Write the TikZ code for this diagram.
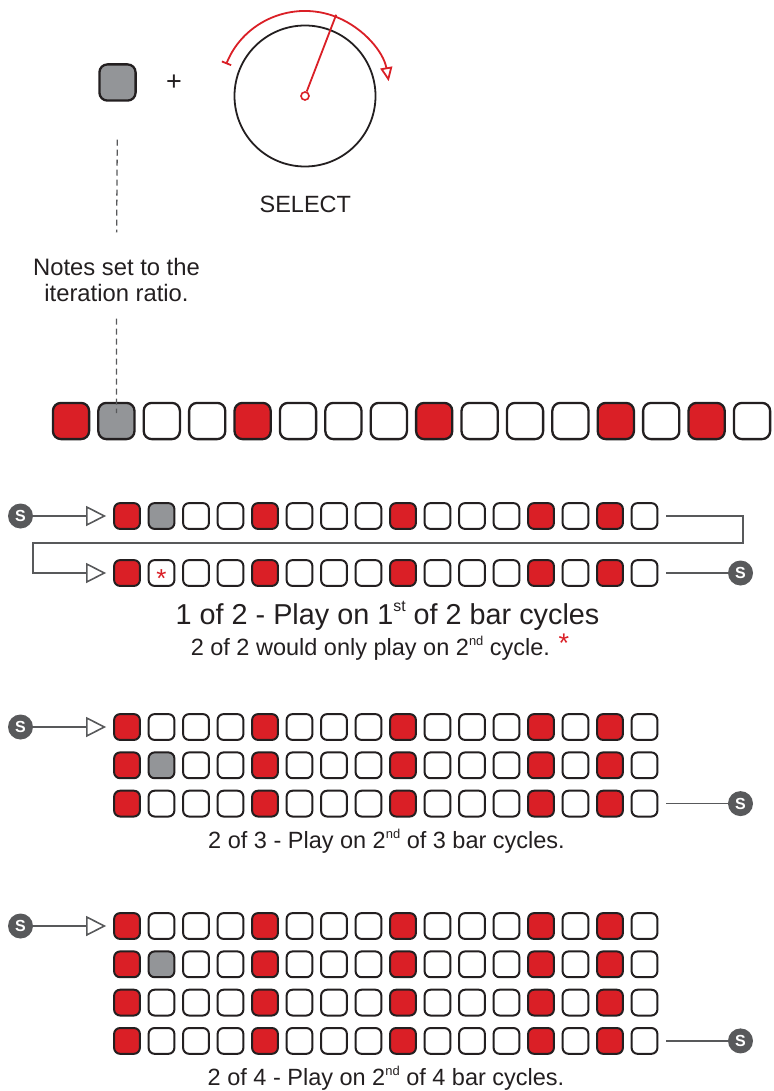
\documentclass[tikz,border=0pt]{standalone}
\usepackage{fontspec}
\setmainfont{Liberation Sans}
\usetikzlibrary{arrows.meta}

\definecolor{padred}{RGB}{218,31,38}
\definecolor{padgray}{RGB}{147,149,152}
\definecolor{edge}{RGB}{35,31,32}
\definecolor{linkgray}{RGB}{88,89,91}

% one bar of 16 steps: name, x of 1st centre, y, pitch, size style, fill of step 2
\newcommand{\padrow}[6]{%
  \foreach \i/\col in {1/padred,2/#6,3/white,4/white,5/padred,6/white,7/white,8/white,
                       9/padred,10/white,11/white,12/white,13/padred,14/white,15/padred,16/white}
    \node[#5, fill=\col] (#1-\i) at ({#2+(\i-1)*#4},#3) {};
}
% small raised ordinal
\newcommand{\ordinal}[1]{\raisebox{0.42em}{\scalebox{0.55}{#1}}}

\begin{document}
\begin{tikzpicture}[x=1pt, y=-1pt,
    bigpad/.style={draw=edge, line width=2.3pt, rounded corners=8pt, minimum size=36.2pt, inner sep=0pt},
    smallpad/.style={draw=edge, line width=2pt, rounded corners=6pt, minimum size=25.8pt, inner sep=0pt},
    start/.style={circle, fill=linkgray, text=white, font=\bfseries\fontsize{16}{16}\selectfont,
                  minimum size=25pt, inner sep=0pt},
    link/.style={draw=linkgray, line width=1.6pt},
    feed/.style={link, -{Triangle[open, length=20pt, width=20pt]}, shorten >=7pt},
    leader/.style={draw=linkgray, line width=1.3pt, dash pattern=on 6pt off 4pt},
    dial/.style={draw=padred, line width=1.8pt},
    caption/.style={text=edge, font=\fontsize{23.5}{26.7}\selectfont}]
  \useasboundingbox (0,0) rectangle (773,1091);

  % Shift button + encoder
  \node[bigpad, fill=padgray] (btn) at (117.5,82.5) {};
  \node[text=edge, font=\fontsize{27}{27}\selectfont] (plus) at (174,83) {+};
  \node[circle, draw=edge, line width=1.8pt, minimum size=141pt] (knob) at (305,96) {};
  \node[circle, draw=padred, fill=white, line width=1.6pt, minimum size=8pt, inner sep=0pt] (hub) at (305,96) {};
  \draw[dial] (hub) -- +(-69:87);
  \draw[dial, {Bar[width=10pt]}-{Triangle[open, length=14pt, width=12pt]}]
    (hub.center) ++(-158:85) arc[start angle=-158, end angle=-10, radius=85];
  \node[caption, anchor=base] (select) at (305.3,213) {SELECT};

  % Note about the ratio
  \node[caption, font=\fontsize{23.8}{26.7}\selectfont, align=center] (notes) at (116.5,280)
    {Notes set to the\\iteration ratio.};

  % The pattern
  \padrow{b}{71}{421}{45.4}{bigpad}{padgray}
  \draw[leader, shorten <=38pt, shorten >=22pt] (btn.south) -- (notes.north);
  \draw[leader, shorten <=13pt, shorten >=8pt] (notes.south) -- (b-2.center);

  % 1 of 2
  \node[start] (s1) at (20.5,516) {S};
  \padrow{p}{127}{516}{34.5}{smallpad}{padgray}
  \padrow{q}{127}{573}{34.5}{smallpad}{white}
  \node[text=padred, font=\fontsize{26}{26}\selectfont] (tied) at ([yshift=-6pt]q-2.center) {*};
  \node[start] (e1) at (740.5,573) {S};
  \coordinate (turnA) at (743,543);
  \coordinate (turnB) at (33,543);
  \draw[feed] (s1) -- (p-1);
  \draw[feed, shorten <=8pt] (p-16) -| (turnA) -- (turnB) |- (q-1);
  \draw[link, shorten <=8pt] (q-16) -- (e1);
  \node[caption, font=\fontsize{28.8}{30}\selectfont, anchor=base] (cap1) at (387.5,624)
    {1 of 2 - Play on 1\ordinal{st} of 2 bar cycles};
  \node[caption, anchor=base] (cap1b) at (380,655)
    {2 of 2 would only play on 2\ordinal{nd} cycle. \raisebox{3pt}{\textcolor{padred}{\fontsize{27}{27}\selectfont *}}};

  % 2 of 3
  \node[start] (s2) at (20.5,727) {S};
  \padrow{u}{127}{727}{34.5}{smallpad}{white}
  \padrow{v}{127}{765.3}{34.5}{smallpad}{padgray}
  \padrow{w}{127}{803.6}{34.5}{smallpad}{white}
  \node[start] (e2) at (740.5,803.6) {S};
  \draw[feed] (s2) -- (u-1);
  \draw[link, shorten <=8pt] (w-16) -- (e2);
  \node[caption, anchor=base] (cap2) at (386.5,848)
    {2 of 3 - Play on 2\ordinal{nd} of 3 bar cycles.};

  % 2 of 4
  \node[start] (s3) at (20.5,926) {S};
  \padrow{x}{127}{926}{34.5}{smallpad}{white}
  \padrow{y}{127}{964.3}{34.5}{smallpad}{padgray}
  \padrow{z}{127}{1002.6}{34.5}{smallpad}{white}
  \padrow{t}{127}{1040.9}{34.5}{smallpad}{white}
  \node[start] (e3) at (740.5,1040.9) {S};
  \draw[feed] (s3) -- (x-1);
  \draw[link, shorten <=8pt] (t-16) -- (e3);
  \node[caption, anchor=base] (cap3) at (386,1085)
    {2 of 4 - Play on 2\ordinal{nd} of 4 bar cycles.};
\end{tikzpicture}
\end{document}
